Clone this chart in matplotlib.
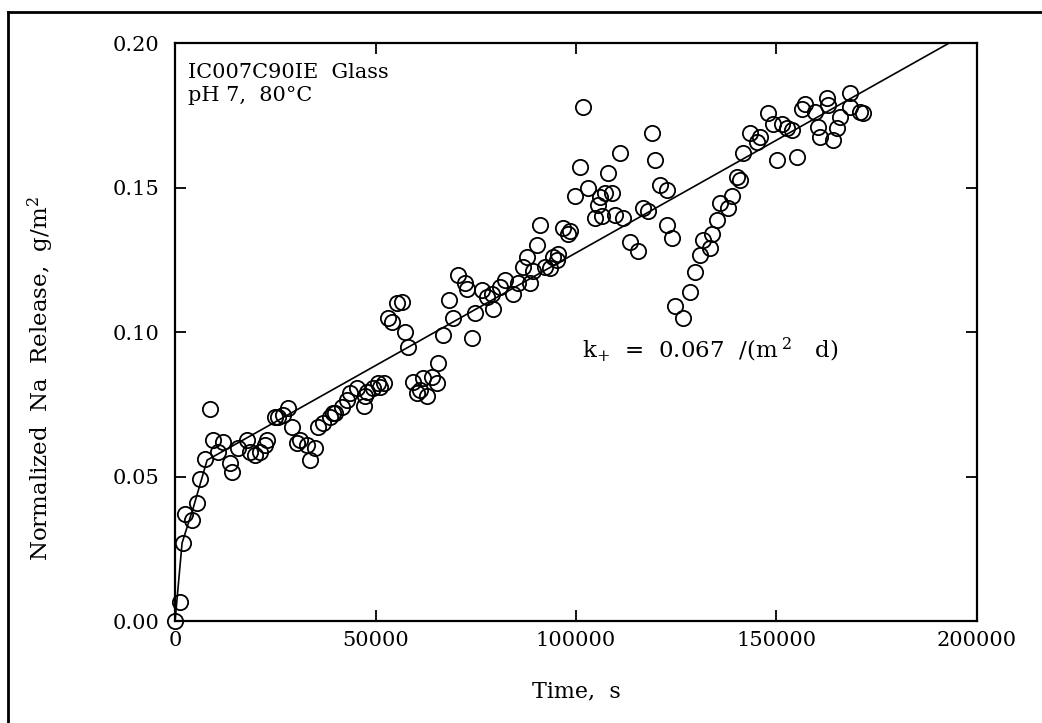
import matplotlib
matplotlib.use('Agg')
import matplotlib.pyplot as plt
from matplotlib.lines import Line2D

plt.rcParams['font.family'] = ['DejaVu Serif']
plt.rcParams['mathtext.fontset'] = 'dejavuserif'

# measured points (time in s, normalized Na release in g/m^2)
time_s = [
    0, 1200, 2000, 2500, 4200, 5500, 6200, 7500, 8700, 9500,
    10700, 12000, 13700, 14200, 15700, 18000, 18700, 20000, 21200, 22400,
    23000, 24900, 25700, 27000, 28200, 29200, 30400, 31200, 32900, 33700,
    34900, 35700, 37000, 38700, 39400, 40000, 41600, 42800, 43700, 45400,
    47000, 47400, 47900, 49400, 50600, 51100, 52000, 53100, 54100, 55400,
    56600, 57400, 58100, 59400, 60300, 61100, 61800, 62800, 64100, 65300,
    65600, 66900, 68200, 69400, 70600, 72300, 72800, 74000, 74800, 76500,
    77800, 79000, 79300, 81000, 82300, 84300, 85500, 86800, 87700, 88500,
    89300, 90300, 91000, 92300, 93500, 94300, 95200, 95500, 96800, 98000,
    98500, 99800, 101000, 101800, 103000, 104800, 105500, 106000, 106500, 107200,
    108000, 109000, 109700, 111000, 111700, 113500, 115500, 116700, 118000, 119000,
    119800, 121000, 122700, 122700, 124000, 124700, 126700, 128500, 129700, 131000,
    131700, 133400, 133900, 135100, 135900, 137900, 138900, 140100, 140900, 141700,
    143400, 145100, 145900, 147900, 149100, 150100, 151400, 152600, 153900, 155100,
    156400, 157100, 159600, 160400, 160900, 162600, 162900, 164100, 165100, 165900,
    168300, 168300, 170800, 171600,
]
na_release = [
    0.000, 0.0065, 0.027, 0.037, 0.035, 0.041, 0.049, 0.056, 0.0735, 0.0626,
    0.0585, 0.062, 0.0547, 0.0516, 0.060, 0.0626, 0.0585, 0.0574, 0.0585, 0.061,
    0.0626, 0.0706, 0.0706, 0.0713, 0.0737, 0.067, 0.0616, 0.0626, 0.061, 0.0557,
    0.060, 0.067, 0.0685, 0.0706, 0.072, 0.072, 0.074, 0.0765, 0.079, 0.0806,
    0.0745, 0.078, 0.0792, 0.0806, 0.0823, 0.081, 0.0823, 0.105, 0.1035, 0.110,
    0.1105, 0.100, 0.0948, 0.0827, 0.079, 0.080, 0.084, 0.078, 0.0844, 0.0823,
    0.0893, 0.099, 0.111, 0.105, 0.1197, 0.117, 0.115, 0.098, 0.1065, 0.1145,
    0.112, 0.113, 0.108, 0.1156, 0.118, 0.113, 0.117, 0.1225, 0.126, 0.117,
    0.121, 0.130, 0.137, 0.1225, 0.122, 0.126, 0.125, 0.127, 0.136, 0.134,
    0.135, 0.147, 0.157, 0.178, 0.150, 0.1395, 0.144, 0.1467, 0.140, 0.148,
    0.155, 0.148, 0.1405, 0.162, 0.1395, 0.131, 0.128, 0.143, 0.142, 0.169,
    0.1595, 0.151, 0.149, 0.137, 0.1325, 0.109, 0.105, 0.114, 0.1207, 0.1266,
    0.132, 0.129, 0.134, 0.1388, 0.1446, 0.143, 0.147, 0.1536, 0.1526, 0.162,
    0.1688, 0.1657, 0.1675, 0.1758, 0.172, 0.1595, 0.172, 0.1706, 0.170, 0.1606,
    0.177, 0.179, 0.176, 0.171, 0.1675, 0.181, 0.1785, 0.1665, 0.1706, 0.1744,
    0.1827, 0.178, 0.176, 0.1758,
]

# fitted curve
fit_time = [0, 1750, 4500, 8000, 20000, 200000]
fit_release = [0.0, 0.027, 0.039, 0.0557, 0.0650, 0.2054]

fig = plt.figure(figsize=(10.42, 7.23), dpi=100)
ax = fig.add_axes([0.168, 0.141, 0.7696, 0.7995])

ax.plot(fit_time, fit_release, color='black', lw=1.2, zorder=2)
ax.plot(time_s, na_release, 'o', mfc='none', mec='black', ms=11, mew=1.3,
        zorder=3, clip_on=False)

ax.set_xlim(0, 200000)
ax.set_ylim(0, 0.20)
ax.set_xticks([0, 50000, 100000, 150000, 200000])
ax.set_yticks([0.00, 0.05, 0.10, 0.15, 0.20])
ax.set_yticklabels(['0.00', '0.05', '0.10', '0.15', '0.20'])
ax.tick_params(direction='in', length=8, width=1.3, labelsize=15,
               top=True, right=True)
ax.tick_params(axis='y', pad=11)
ax.tick_params(axis='x', pad=7)
for sp in ax.spines.values():
    sp.set_linewidth(1.6)

ax.set_xlabel('Time,  s', fontsize=16)
ax.set_ylabel(r'Normalized  Na  Release,  g/m$^{\mathregular{2}}$',
              fontsize=16.5)
ax.xaxis.set_label_coords(0.5, -0.102)
ax.yaxis.set_label_coords(-0.148, 0.42)

ax.text(0.016, 0.965, 'IC007C90IE  Glass\npH 7,  80°C', transform=ax.transAxes,
        ha='left', va='top', fontsize=15, linespacing=1.25)
ax.text(0.508, 0.47, r'k$_{+}$  =  0.067  /(m$^{\ 2}$   d)',
        transform=ax.transAxes, ha='left', va='center', fontsize=16.5)

# outer frame of the scanned figure
x0, y0 = 8 / 1042, 1 - 12 / 723
fig.add_artist(Line2D([x0, x0], [0, y0], transform=fig.transFigure,
                      color='black', lw=2))
fig.add_artist(Line2D([x0, 1], [y0, y0], transform=fig.transFigure,
                      color='black', lw=2))

fig.savefig('out.png', dpi=100, facecolor='white')
